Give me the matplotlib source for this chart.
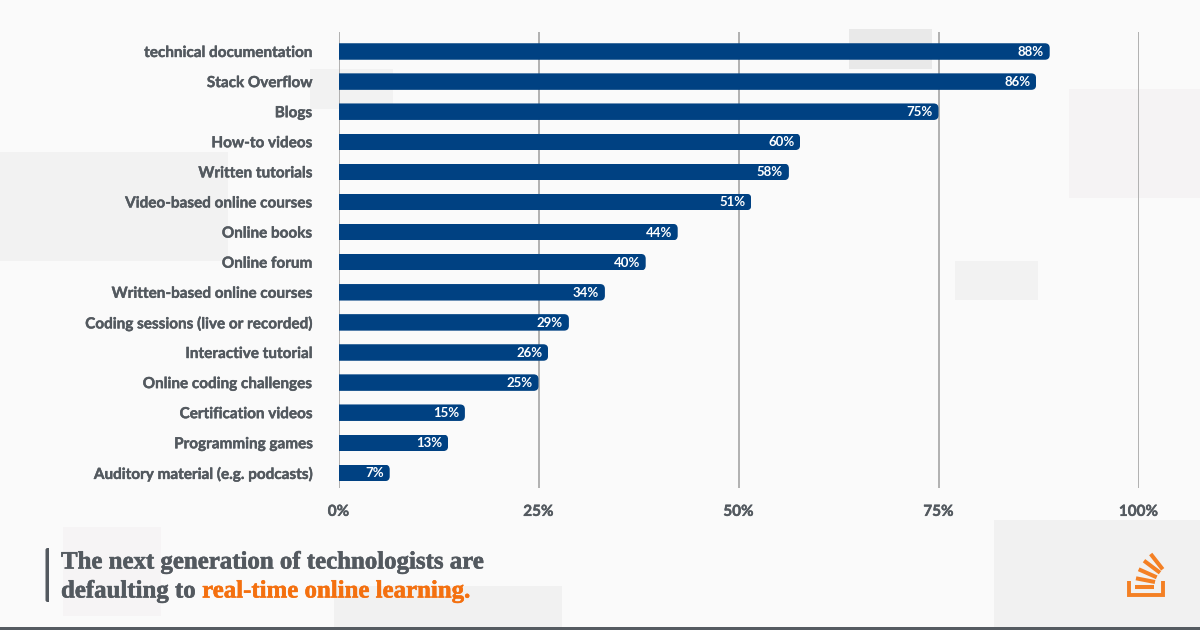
import matplotlib
matplotlib.use("Agg")
import matplotlib.pyplot as plt
import matplotlib.patheffects as pe
from matplotlib.patches import Rectangle, FancyBboxPatch

categories = ["technical documentation", "Stack Overflow", "Blogs", "How-to videos",
              "Written tutorials", "Video-based online courses", "Online books", "Online forum",
              "Written-based online courses", "Coding sessions (live or recorded)",
              "Interactive tutorial", "Online coding challenges", "Certification videos",
              "Programming games", "Auditory material (e.g. podcasts)"]
bar_lengths = [88.9, 87.2, 75.0, 57.7, 56.3, 51.6, 42.4, 38.4, 33.3, 28.8, 26.2, 25.0, 15.8, 13.7, 6.4]
value_labels = ["88%", "86%", "75%", "60%", "58%", "51%", "44%", "40%", "34%", "29%", "26%", "25%", "15%", "13%", "7%"]
ticks = [0, 25, 50, 75, 100]
tick_labels = ["0%", "25%", "50%", "75%", "100%"]

BG = "#fafafa"; DARK = "#53595f"; BLUE = "#004182"; GRID = "#ababab"; ORANGE = "#f48024"; HILITE = "#f4700f"
LABEL_FONT = "Lato"
HEAD_FONT = "Liberation Serif"
HEAD_SIZE = 17.9

fig = plt.figure(figsize=(12, 6.3), dpi=100, facecolor=BG)

# Page layer in pixel coordinates
pg = fig.add_axes([0, 0, 1, 1], zorder=0)
pg.set_xlim(0, 1200); pg.set_ylim(630, 0); pg.axis("off")
for (x, y, w, h, c) in [(849, 29, 83, 40, "#e9e9e9"), (310, 69, 83, 40, "#f2f2f2"),
                        (1069, 89, 131, 109, "#f5f3f4"), (0, 152, 228, 109, "#f2f2f2"),
                        (955, 261, 83, 39, "#f2f2f2"), (63, 527, 98, 89, "#f6f4f5"),
                        (334, 586, 228, 42, "#f1f1f1"), (994, 520, 206, 108, "#f1f1f1")]:
    pg.add_patch(Rectangle((x, y), w, h, fc=c, ec="none"))
pg.add_patch(Rectangle((0, 627), 1200, 3, fc="#555b61", ec="none"))
pg.add_patch(FancyBboxPatch((45.5, 548), 6, 54, boxstyle="round,pad=0,rounding_size=2", fc=DARK, ec="none"))
pg.add_patch(Rectangle((48.8, 545), 5, 60, fc=BG, ec="none"))

# Logo
def seg(x0, y0, x1, y1, lw):
    pg.plot([x0, x1], [y0, y1], color=ORANGE, lw=lw, solid_capstyle="butt")
for s in [(1135, 587, 1154, 587), (1136, 578.3, 1155, 582), (1138.7, 569.3, 1156.7, 577.3),
          (1144, 560.7, 1160, 572.7), (1150.7, 554, 1162.7, 569.3)]:
    seg(*s, 2.9)
pg.plot([1128.8, 1128.8, 1162.7, 1162.7], [581.3, 595.2, 595.2, 581.3], color=ORANGE, lw=2.8,
        solid_joinstyle="miter", solid_capstyle="butt")

# Headline
t1 = pg.text(61, 562, "The next generation of technologists are", family=HEAD_FONT, weight="bold",
             fontsize=HEAD_SIZE, color=DARK, va="center", ha="left",
             path_effects=[pe.withStroke(linewidth=0.4, foreground=DARK)])
t2 = pg.text(61, 591, "defaulting to ", family=HEAD_FONT, weight="bold",
             fontsize=HEAD_SIZE, color=DARK, va="center", ha="left",
             path_effects=[pe.withStroke(linewidth=0.4, foreground=DARK)])
pg.annotate("real-time online learning.", xy=(1, 0), xycoords=t2, xytext=(0, 0), textcoords="offset points",
            family=HEAD_FONT, weight="bold", fontsize=HEAD_SIZE, color=HILITE, va="bottom", ha="left",
            path_effects=[pe.withStroke(linewidth=0.4, foreground=HILITE)])

# Chart
px_y = 30.1
ax = fig.add_axes([338.5 / 1200, 1 - 487.5 / 630, (1138.5 - 338.5) / 1200, (487.5 - 32) / 630], zorder=1)
ax.patch.set_alpha(0)
ax.set_xlim(0, 100)
ax.set_ylim((487.5 - 51.5) / px_y, -(51.5 - 32) / px_y)
ypos = list(range(len(categories)))
ax.set_axisbelow(True)
ax.grid(axis="x", color=GRID, lw=1.3)
ax.tick_params(length=0)
for s in ax.spines.values():
    s.set_visible(False)
bars = ax.barh(ypos, bar_lengths, height=16.5 / px_y, color=BLUE, zorder=2)
aspect = (1 / px_y) / (1 / 8)
for b in bars:
    clip = FancyBboxPatch((-2, b.get_y()), b.get_width() + 2, b.get_height(),
                          boxstyle="round,pad=0,rounding_size=0.6", mutation_aspect=aspect,
                          transform=ax.transData, fc="none", ec="none")
    ax.add_patch(clip)
    clip.set_clip_on(False)
    b.set_clip_path(clip)
for y, v, l in zip(ypos, bar_lengths, value_labels):
    ax.annotate(l, xy=(v, y), xytext=(-4.2, -0.3), textcoords="offset points", ha="right", va="center",
                color="white", family=LABEL_FONT, weight="bold", fontsize=9.5, zorder=3)
ax.set_yticks(ypos, categories, family=LABEL_FONT, weight="bold", fontsize=11, color=DARK)
ax.tick_params(axis="y", pad=19)
ax.set_xticks(ticks, tick_labels, family=LABEL_FONT, weight="bold", fontsize=11, color=DARK)
ax.tick_params(axis="x", pad=12.5)
for t in ax.get_xticklabels() + ax.get_yticklabels():
    t.set_path_effects([pe.withStroke(linewidth=0.3, foreground=DARK)])

fig.savefig("out.png", dpi=100, facecolor=BG)
